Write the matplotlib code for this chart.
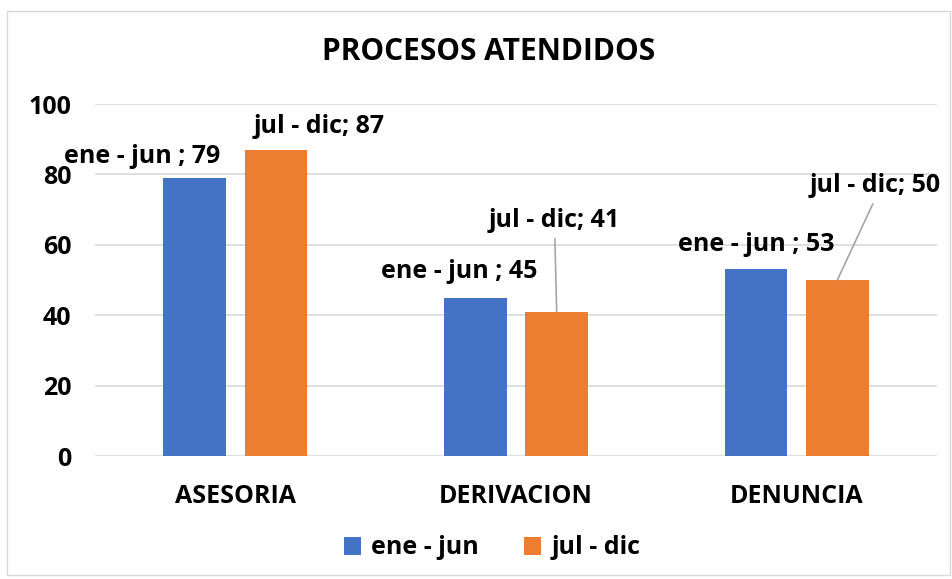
import matplotlib.pyplot as plt
from matplotlib.patches import Rectangle
import numpy as np

categories = ["ASESORIA", "DERIVACION", "DENUNCIA"]
series = ["ene - jun", "jul - dic"]
ene_jun = [79, 45, 53]
jul_dic = [87, 41, 50]
label_fmt = ["ene - jun ; {}", "jul - dic; {}"]

colors = ["#4472C4", "#ED7D31"]
plt.rcParams['font.family'] = ['Open Sans', 'DejaVu Sans']
plt.rcParams['font.weight'] = 'bold'
fs = 18

fig = plt.figure(figsize=(9.53, 5.79), dpi=100)
fig.patches.append(Rectangle((7 / 953, 4 / 579), 943 / 953, 564 / 579, transform=fig.transFigure,
                             fill=False, edgecolor="#D9D9D9", linewidth=1))
ax = fig.add_axes([95 / 953, 123 / 579, 842 / 953, 352 / 579])

x = np.arange(len(categories))
w = 0.224
off = 0.145
b1 = ax.bar(x - off, ene_jun, w, color=colors[0], label=series[0], zorder=3)
b2 = ax.bar(x + off, jul_dic, w, color=colors[1], label=series[1], zorder=3)

ax.set_xlim(-0.5, 2.5)
ax.set_ylim(0, 100)
ax.set_yticks(range(0, 101, 20))
ax.grid(axis='y', color="#D9D9D9", linewidth=1.2, zorder=0)
for s in ax.spines.values():
    s.set_visible(False)
ax.tick_params(length=0, labelsize=fs)
ax.tick_params(axis='y', pad=17)
ax.tick_params(axis='x', pad=20)
ax.set_xticks(x)
ax.set_xticklabels(categories)
for lab in ax.get_xticklabels() + ax.get_yticklabels():
    lab.set_fontweight('bold')

# label offsets in pixels from top of each bar
offsets = [
    [(-53, 21), (-16, 26), (0, 25)],
    [(43, 23), (-2, 91), (38, 94)],
]
leader = [[False, False, False], [False, True, True]]
for si, (bars, vals) in enumerate([(b1, ene_jun), (b2, jul_dic)]):
    for ci, (bar, v) in enumerate(zip(bars, vals)):
        xy = (bar.get_x() + bar.get_width() / 2, v)
        kw = {}
        if leader[si][ci]:
            kw['arrowprops'] = dict(arrowstyle='-', color='#A6A6A6', lw=1.2,
                                    relpos=(0.5, 0), shrinkA=2, shrinkB=0)
        ax.annotate(label_fmt[si].format(v), xy=xy, xytext=offsets[si][ci],
                    textcoords='offset pixels', ha='center', va='center',
                    fontsize=fs, fontweight='bold', color='black', zorder=5, **kw)

fig.text(489 / 953, 1 - 52 / 579, "PROCESOS ATENDIDOS", ha='center', va='center',
         fontsize=21.5, fontweight='bold')

fig.legend(handles=[b1, b2], labels=series, loc='center', bbox_to_anchor=(492 / 953, 1 - 548 / 579),
           ncol=2, frameon=False, handlelength=0.7, handleheight=0.7,
           columnspacing=1.8, handletextpad=0.4, prop={'weight': 'bold', 'size': fs})

fig.savefig("out.png", dpi=100)
